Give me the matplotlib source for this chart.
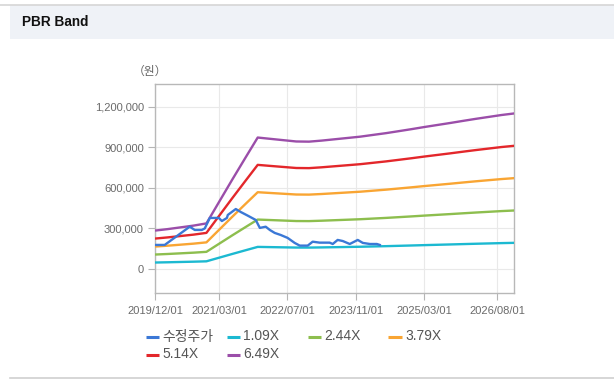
import matplotlib
matplotlib.use("Agg")
import matplotlib.pyplot as plt
import matplotlib.dates as mdates
from matplotlib.lines import Line2D
from matplotlib.patches import Rectangle
import numpy as np
import pandas as pd

plt.rcParams['font.family'] = ['Liberation Sans', 'Noto Sans CJK KR', 'DejaVu Sans']

# ---------------- data ----------------
bps_dates = ["2019-12-01", "2020-03-01", "2020-06-01", "2020-09-01", "2020-12-01",
             "2021-03-01", "2021-06-01", "2021-09-01", "2021-12-01",
             "2022-03-01", "2022-06-01", "2022-09-01", "2022-12-01",
             "2023-03-01", "2023-06-01", "2023-09-01", "2023-12-01",
             "2024-03-01", "2024-06-01", "2024-09-01", "2024-12-01",
             "2025-03-01", "2025-06-01", "2025-09-01", "2025-12-01",
             "2026-03-01", "2026-06-01", "2026-09-01", "2026-12-01"]
bps_values = [43800, 45500, 47500, 49500, 52000,
              76500, 101500, 126000, 150000,
              148500, 147000, 145500, 145300,
              146500, 148000, 149500, 151000,
              153000, 155000, 157300, 159600,
              162000, 164300, 166600, 169000,
              171300, 173500, 175700, 177500]
band_multiples = [1.09, 2.44, 3.79, 5.14, 6.49]
band_labels = ["1.09X", "2.44X", "3.79X", "5.14X", "6.49X"]

price_dates = ["2019-12-01", "2020-02-08", "2020-08-04", "2020-09-09", "2020-10-29",
               "2020-11-19", "2020-12-25", "2021-02-27", "2021-03-21", "2021-04-26",
               "2021-05-02", "2021-06-28", "2021-08-02", "2021-09-21", "2021-11-17",
               "2021-12-16", "2022-01-27", "2022-02-25", "2022-04-01", "2022-05-13",
               "2022-07-02", "2022-08-21", "2022-09-26", "2022-11-22", "2022-12-27",
               "2023-02-15", "2023-04-27", "2023-05-19", "2023-06-23", "2023-07-29",
               "2023-09-17", "2023-11-13", "2023-12-19", "2024-02-07", "2024-03-28",
               "2024-04-18"]
price_values = [178000, 178000, 313000, 289000, 289000,
                300000, 378000, 378000, 355000, 378000,
                400000, 444000, 422000, 395000, 363000,
                304000, 313000, 289000, 267000, 252000,
                230000, 193000, 173000, 173000, 202000,
                195000, 195000, 185000, 215000, 207000,
                185000, 215000, 193000, 185000, 185000,
                178000]
price_label = "수정주가"

x_ticks = ["2019-12-01", "2021-03-01", "2022-07-01", "2023-11-01", "2025-03-01", "2026-08-01"]
x_tick_labels = ["2019/12/01", "2021/03/01", "2022/07/01", "2023/11/01", "2025/03/01", "2026/08/01"]
y_ticks = [0, 300000, 600000, 900000, 1200000]

# ---------------- style ----------------
colors = {"수정주가": "#3b78d6", "1.09X": "#1cb9d1", "2.44X": "#8dbe4e",
          "3.79X": "#f9a533", "5.14X": "#e3272b", "6.49X": "#9b4ea9"}
W, H = 614, 385
fig = plt.figure(figsize=(W / 100, H / 100), dpi=100)
fig.patch.set_facecolor("white")

def fx(px):
    return px / W

def fy(py):
    return 1 - py / H

# header band and lines
fig.add_artist(Rectangle((fx(10), fy(39)), fx(604), fy(5) - fy(39), transform=fig.transFigure,
                         facecolor="#eff2f7", edgecolor="none", zorder=0))
fig.add_artist(Line2D([0, 1], [fy(4.5), fy(4.5)], transform=fig.transFigure, color="#d6d6d6", lw=1.2))
fig.add_artist(Line2D([fx(10), 1], [fy(377.5), fy(377.5)], transform=fig.transFigure, color="#d0d0d0", lw=1.2))
fig.text(fx(22), fy(22.5), "PBR Band", fontsize=9.8, fontweight="bold", color="#111111",
         va="center", ha="left")

ax = fig.add_axes([fx(155), fy(293), fx(514) - fx(155), fy(84) - fy(293)])
ax.set_facecolor("white")

bd = pd.to_datetime(bps_dates)
bv = np.array(bps_values, dtype=float)
for m, lab in zip(band_multiples, band_labels):
    ax.plot(bd, bv * m, color=colors[lab], lw=1.7, solid_capstyle="butt", zorder=3)
ax.plot(pd.to_datetime(price_dates), price_values, color=colors[price_label], lw=1.7, zorder=4)

ax.set_xlim(pd.Timestamp("2019-12-01"), pd.Timestamp("2026-11-29"))
ax.set_ylim(-178000, 1370000)
ax.set_xticks(pd.to_datetime(x_ticks))
ax.set_xticklabels(x_tick_labels)
ax.set_yticks(y_ticks)
ax.set_yticklabels([f"{v:,}" for v in y_ticks])
ax.tick_params(axis="both", colors="#b5b5b5", labelcolor="#6a6a6a", labelsize=8, length=5, width=0.8)
ax.tick_params(axis="x", pad=4.5)
ax.tick_params(axis="y", pad=3)
ax.grid(True, color="#e9e9e9", lw=0.8, zorder=0)
ax.set_axisbelow(True)
for s in ax.spines.values():
    s.set_color("#b8b8b8")
    s.set_linewidth(1.0)

fig.text(fx(150), fy(72), "（원）", fontsize=8.5, color="#666666", ha="center", va="center")

# legend (row-major layout)
legend_items = [price_label] + band_labels
col_x = [145.5, 226.5, 307.5, 388.5]
row_y = [336.5, 354.5]
for i, lab in enumerate(legend_items):
    r, c = divmod(i, 4)
    x0 = col_x[c]
    y0 = row_y[r]
    fig.add_artist(Line2D([fx(x0), fx(x0 + 13)], [fy(y0), fy(y0)], transform=fig.transFigure,
                          color=colors[lab], lw=2.2, solid_capstyle="butt"))
    fig.text(fx(x0 + 16.5), fy(y0), lab, fontsize=10, color="#555555", ha="left", va="center")

fig.savefig("out.png", dpi=100, facecolor=fig.get_facecolor())
